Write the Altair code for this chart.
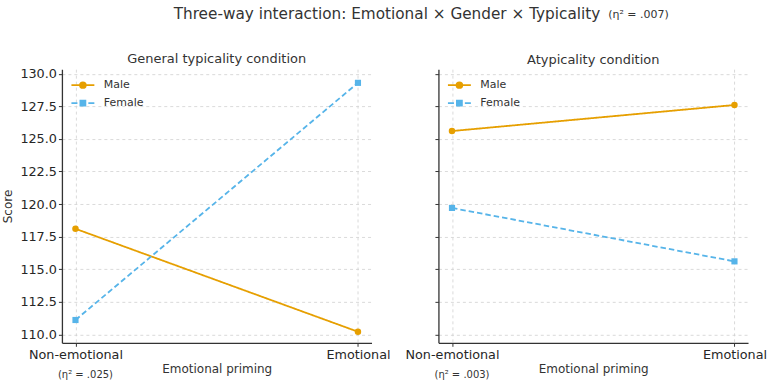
import altair as alt
import pandas as pd

# ---- data ----
conditions = ["General typicality condition", "Atypicality condition"]
priming = ["Non-emotional", "Emotional"]
genders = ["Male", "Female"]
general_male = [118.1, 110.2]
general_female = [111.1, 129.3]
atypical_male = [125.6, 127.6]
atypical_female = [119.7, 115.6]
panel_eta = ["(η² = .025)", "(η² = .003)"]
main_title = "Three-way interaction: Emotional × Gender × Typicality"
main_eta = "(η² = .007)"
y_ticks = [110.0, 112.5, 115.0, 117.5, 120.0, 122.5, 125.0, 127.5, 130.0]

colors = ["#E69F00", "#56B4E9"]
FONT = "DejaVu Sans"
TXT = "#333333"

rows = []
for cond, male, female in [
    (conditions[0], general_male, general_female),
    (conditions[1], atypical_male, atypical_female),
]:
    for p, m, f in zip(priming, male, female):
        rows.append({"condition": cond, "priming": p, "gender": "Male", "score": m})
        rows.append({"condition": cond, "priming": p, "gender": "Female", "score": f})
df = pd.DataFrame(rows)

male_path = "M-1.64,0H1.64M-0.42,0A0.42,0.42,0,1,1,0.42,0A0.42,0.42,0,1,1,-0.42,0Z"
female_path = "M-1.64,0H-0.78M0.78,0H1.64M-0.37,-0.37H0.37V0.37H-0.37Z"

W, H = 310, 274
GAP = 67


def panel(cond, eta, first):
    d = df[df["condition"] == cond]
    x = alt.X(
        "priming:N",
        sort=priming,
        scale=alt.Scale(type="point", padding=0.048),
        axis=alt.Axis(title="Emotional priming", labelAngle=0),
    )
    y = alt.Y(
        "score:Q",
        scale=alt.Scale(domain=[109.35, 130.35], nice=False, zero=False),
        axis=alt.Axis(
            values=y_ticks,
            format=".1f",
            title="Score" if first else None,
            labels=first,
        ),
    )
    col = alt.Color("gender:N", scale=alt.Scale(domain=genders, range=colors), legend=None)
    base = alt.Chart(d).encode(x=x, y=y)
    line = base.mark_line(strokeWidth=1.8).encode(
        color=col,
        strokeDash=alt.StrokeDash(
            "gender:N",
            scale=alt.Scale(domain=genders, range=[[1, 0], [5.5, 3]]),
            legend=None,
        ),
    )
    male_pts = base.mark_point(shape="circle", filled=True, size=42, opacity=1).encode(
        color=col
    ).transform_filter(alt.datum.gender == "Male")
    female_pts = base.mark_point(shape="square", filled=True, size=38, opacity=1).encode(
        color=col
    ).transform_filter(alt.datum.gender == "Female")

    leg = dict(
        title=None,
        orient="none",
        legendX=13,
        legendY=8,
        padding=0,
        symbolSize=196,
        symbolStrokeWidth=1.6,
        labelOffset=13,
        rowPadding=3,
        labelFontSize=11,
        labelFont=FONT,
        labelColor=TXT,
    )
    legend_layer = base.mark_point(filled=True, opacity=1).encode(
        shape=alt.Shape("gender:N", scale=alt.Scale(domain=genders, range=[male_path, female_path]),
                        legend=alt.Legend(**leg)),
        fill=alt.Fill("gender:N", scale=alt.Scale(domain=genders, range=colors),
                      legend=alt.Legend(**leg)),
        stroke=alt.Stroke("gender:N", scale=alt.Scale(domain=genders, range=colors),
                          legend=alt.Legend(**leg)),
    ).transform_filter("false")

    eta_text = alt.Chart(pd.DataFrame({"label": [eta]})).mark_text(
        fontSize=10, font=FONT, color=TXT, dx=10, baseline="middle"
    ).encode(
        x=alt.datum("Non-emotional"),
        y=alt.value(H + 32),
        text="label:N",
    )
    return alt.layer(line, male_pts, female_pts, legend_layer, eta_text).properties(
        width=W,
        height=H,
        title=alt.TitleParams(cond, fontSize=13, font=FONT, fontWeight="normal", color=TXT,
                              offset=2),
    )


header_title = alt.Chart(pd.DataFrame({"label": [main_title]})).mark_text(
    fontSize=15.3, font=FONT, color=TXT, align="center", baseline="middle"
).encode(x=alt.value(325.5), y=alt.value(10), text="label:N")

header_eta = alt.Chart(pd.DataFrame({"label": [main_eta]})).mark_text(
    fontSize=11, font=FONT, color=TXT, align="left", baseline="middle"
).encode(x=alt.value(W + GAP + 170), y=alt.value(11), text="label:N")

header = alt.layer(header_title, header_eta).properties(width=2 * W + GAP, height=20)

panels = (
    alt.hconcat(panel(conditions[0], panel_eta[0], True),
                panel(conditions[1], panel_eta[1], False),
                spacing=GAP, bounds="flush")
    .resolve_scale(fill="independent", stroke="independent", shape="independent")
    .resolve_legend(fill="independent", stroke="independent", shape="independent")
)

chart = (
    alt.vconcat(header, panels, spacing=45.5, bounds="flush")
    .properties(padding={"left": 1, "top": 3.5, "right": 0, "bottom": 0})
    .configure_view(stroke=None)
    .configure_axis(
        domainColor="#333333",
        domainWidth=1.3,
        tickColor="#333333",
        tickSize=3.5,
        tickWidth=1,
        labelFont=FONT,
        labelFontSize=12.8,
        labelColor="#262626",
        labelPadding=2,
        titleFont=FONT,
        titleFontSize=12,
        titleFontWeight="normal",
        titleColor=TXT,
        grid=True,
        gridColor="#d0d0d0",
        gridDash=[3, 3],
        gridWidth=0.8,
    )
    .configure_axisX(titlePadding=2)
    .configure_axisY(titlePadding=5)
)

chart.save("out.html", embed_options={"renderer": "svg", "actions": False})
